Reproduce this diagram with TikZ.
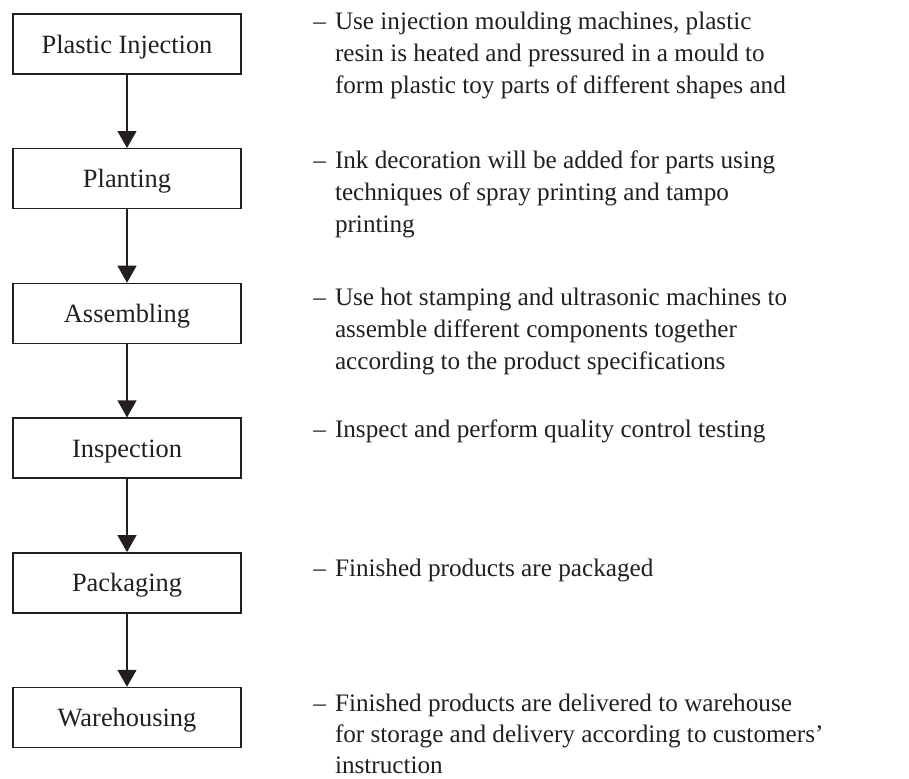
\documentclass[tikz,border=0pt]{standalone}
\usepackage{fontspec}
\setmainfont{Liberation Serif}
\usetikzlibrary{arrows.meta}
\definecolor{ink}{RGB}{35,31,32}

\begin{document}
\begin{tikzpicture}[x=0.5pt,y=-0.5pt,>={Triangle[width=9.5pt,length=8.5pt]},
  box/.style={draw=ink,line width=0.7pt,minimum width=114pt,minimum height=30pt,
    inner sep=0pt,text height=9.5pt,text depth=0.5pt,text=ink,
    font=\fontsize{13.2}{16}\selectfont},
  note/.style={anchor=base west,inner sep=0pt,text=ink,
    font=\fontsize{12.6}{16}\selectfont}]
\useasboundingbox (0,0) rectangle (909,778);
% steps
\node[box] (s1) at (127,44) {Plastic Injection};
\node[box] (s2) at (127,178.7) {Planting};
\node[box] (s3) at (127,313.4) {Assembling};
\node[box] (s4) at (127,448.1) {Inspection};
\node[box] (s5) at (127,582.8) {Packaging};
\node[box] (s6) at (127,717.5) {Warehousing};
\draw[->,ink,line width=0.6pt] (s1) -- (s2); \draw[->,ink,line width=0.6pt] (s2) -- (s3);
\draw[->,ink,line width=0.6pt] (s3) -- (s4); \draw[->,ink,line width=0.6pt] (s4) -- (s5);
\draw[->,ink,line width=0.6pt] (s5) -- (s6);
% descriptions
\node[note] (d1) at (313,29) {\begin{tabular}[t]{@{}l@{\hspace{4.5pt}}l@{}}
  -- & Use injection moulding machines, plastic\\
     & resin is heated and pressured in a mould to\\
     & form plastic toy parts of different shapes and\end{tabular}};
\node[note] (d2) at (313,168) {\begin{tabular}[t]{@{}l@{\hspace{4.5pt}}l@{}}
  -- & Ink decoration will be added for parts using\\
     & techniques of spray printing and tampo\\
     & printing\end{tabular}};
\node[note] (d3) at (313,305) {\begin{tabular}[t]{@{}l@{\hspace{4.5pt}}l@{}}
  -- & Use hot stamping and ultrasonic machines to\\
     & assemble different components together\\
     & according to the product specifications\end{tabular}};
\node[note] (d4) at (313,437) {\begin{tabular}[t]{@{}l@{\hspace{4.5pt}}l@{}}
  -- & Inspect and perform quality control testing\end{tabular}};
\node[note] (d5) at (313,576) {\begin{tabular}[t]{@{}l@{\hspace{4.5pt}}l@{}}
  -- & Finished products are packaged\end{tabular}};
\node[note,font=\fontsize{12.6}{15.5}\selectfont] (d6) at (313,711) {\begin{tabular}[t]{@{}l@{\hspace{4.5pt}}l@{}}
  -- & Finished products are delivered to warehouse\\
     & for storage and delivery according to customers'\\
     & instruction\end{tabular}};
\end{tikzpicture}
\end{document}
